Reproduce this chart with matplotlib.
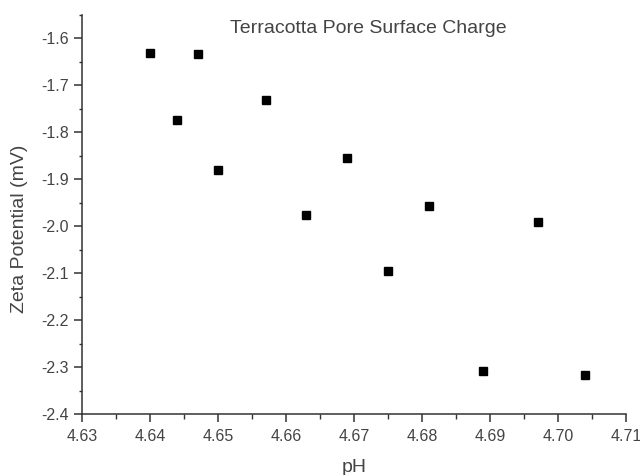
import matplotlib
matplotlib.use("Agg")
import matplotlib.pyplot as plt
from matplotlib.ticker import MultipleLocator

# pH vs zeta potential readings
ph = [4.640, 4.644, 4.647, 4.650, 4.657, 4.663, 4.669, 4.675, 4.681, 4.689, 4.697, 4.704]
zeta = [-1.630, -1.773, -1.634, -1.880, -1.731, -1.975, -1.855, -2.095, -1.957, -2.309, -1.991, -2.317]

plt.rcParams["font.family"] = ["Liberation Sans", "DejaVu Sans"]
ink = "#333333"
txt = "#444444"

fig = plt.figure(figsize=(6.4, 4.75), dpi=100)
ax = fig.add_axes([0.128, 0.1284, 0.850, 0.840])

ax.plot(ph, zeta, linestyle="none", marker="s", markersize=5.4, color="black")

ax.set_xlim(4.63, 4.71)
ax.set_ylim(-2.4, -1.55)
ax.xaxis.set_major_locator(MultipleLocator(0.01))
ax.xaxis.set_minor_locator(MultipleLocator(0.005))
ax.yaxis.set_major_locator(MultipleLocator(0.1))
ax.yaxis.set_minor_locator(MultipleLocator(0.05))
ax.xaxis.set_major_formatter(plt.FormatStrFormatter("%.2f"))
ax.yaxis.set_major_formatter(plt.FormatStrFormatter("%.1f"))

for side in ["top", "right"]:
    ax.spines[side].set_visible(False)
for side in ["left", "bottom"]:
    ax.spines[side].set_color(ink)
    ax.spines[side].set_linewidth(1.1)

ax.tick_params(which="major", direction="out", length=6, width=1.1, color=ink,
               labelsize=11.5, labelcolor=txt)
ax.tick_params(axis="x", which="major", pad=5)
ax.tick_params(axis="x", which="minor", direction="out", length=3.5, width=1.0, color=ink)
ax.tick_params(axis="y", which="minor", direction="out", length=2.2, width=1.0, color=ink)

ax.set_xlabel("pH", fontsize=14, color=txt)
ax.set_ylabel("Zeta Potential (mV)", fontsize=14, color=txt)
ax.xaxis.set_label_coords(0.5, -0.112)
ax.yaxis.set_label_coords(-0.099, 0.4637)

ax.text(0.5257, 0.965, "Terracotta Pore Surface Charge", transform=ax.transAxes,
        ha="center", va="center", fontsize=14, color=txt)

fig.savefig("out.png", dpi=100)
